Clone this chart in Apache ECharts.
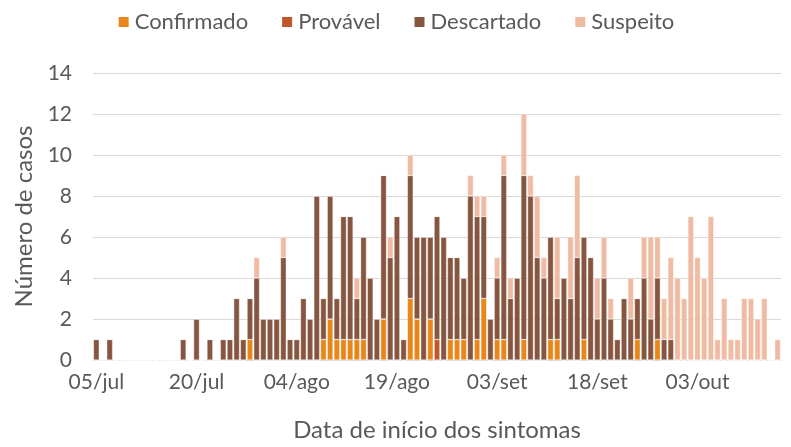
<!DOCTYPE html>
<html>
<head>
<meta charset="utf-8">
<script src="https://cdn.jsdelivr.net/npm/echarts@6/dist/echarts.min.js"></script>
<style>
  html, body { margin: 0; padding: 0; background: #fff; }
  #chart { width: 791px; height: 447px; }
</style>
</head>
<body>
<div id="chart"></div>
<script>
// dias de 05/jul a 15/out
var startDay = new Date(2020, 6, 5);
var months = ['jan', 'fev', 'mar', 'abr', 'mai', 'jun', 'jul', 'ago', 'set', 'out', 'nov', 'dez'];
var days = [];
for (var i = 0; i < 103; i++) {
    var d = new Date(startDay.getTime() + i * 86400000);
    days.push((d.getDate() < 10 ? '0' : '') + d.getDate() + '/' + months[d.getMonth()]);
}

var confirmado = [
    0,0,0,0,0,0,0,0,0,0, 0,0,0,0,0,0,0,0,0,0,
    0,0,0,1,0,0,0,0,0,0, 0,0,0,0,1,2,1,1,1,1,
    1,0,0,2,0,0,0,3,2,0, 2,0,0,1,1,1,0,1,3,0,
    1,1,0,0,1,0,0,0,1,1, 0,0,0,1,0,0,0,0,0,0,
    0,1,0,0,1,0,0,0,0,0, 0,0,0,0,0,0,0,0,0,0,
    0,0,0
];
var provavel = [
    0,0,0,0,0,0,0,0,0,0, 0,0,0,0,0,0,0,0,0,0,
    0,0,0,0,0,0,0,0,0,0, 0,0,0,0,0,0,0,0,0,0,
    0,0,0,0,0,0,0,0,0,0, 0,1,0,0,0,0,0,0,0,0,
    0,0,0,0,0,0,0,0,0,0, 0,0,0,0,0,0,0,0,0,0,
    0,0,0,0,0,0,0,0,0,0, 0,0,0,0,0,0,0,0,0,0,
    0,0,0
];
var descartado = [
    1,0,1,0,0,0,0,0,0,0, 0,0,0,1,0,2,0,1,0,1,
    1,3,1,2,4,2,2,2,5,1, 1,3,2,8,2,6,2,6,6,2,
    5,4,2,7,5,7,1,6,4,6, 4,6,6,4,4,3,8,6,4,2,
    3,8,3,4,8,8,5,4,5,2, 4,3,5,5,5,2,4,2,1,3,
    2,2,4,2,3,1,1,0,0,0, 0,0,0,0,0,0,0,0,0,0,
    0,0,0
];
var suspeito = [
    0,0,0,0,0,0,0,0,0,0, 0,0,0,0,0,0,0,0,0,0,
    0,0,0,0,1,0,0,0,1,0, 0,0,0,0,0,0,0,0,0,1,
    0,0,0,0,1,0,0,1,0,0, 0,0,0,0,0,0,1,1,1,0,
    1,1,1,0,3,1,3,1,0,3, 0,3,4,0,0,2,2,1,0,0,
    2,0,2,4,2,2,4,4,3,7, 5,4,7,1,3,1,1,3,3,2,
    3,0,1
];

var yTicks = [0, 2, 4, 6, 8, 10, 12, 14];
var txt = '#595959';
var font = 'Lato';

function serie(name, data, color) {
    return {
        name: name,
        type: 'bar',
        stack: 'casos',
        data: data,
        barCategoryGap: '14%',
        itemStyle: { color: color, borderColor: '#fff', borderWidth: 0.4 }
    };
}

var myChart = echarts.init(document.getElementById('chart'));
myChart.setOption({
    animation: false,
    textStyle: { fontFamily: font, color: txt },
    legend: {
        top: 6,
        left: 'center',
        itemWidth: 12,
        itemHeight: 12,
        itemGap: 32,
        icon: 'rect',
        textStyle: { fontSize: 22, color: txt, fontFamily: font }
    },
    grid: { left: 93, right: 10, top: 73, bottom: 86 },
    xAxis: {
        type: 'category',
        data: days,
        name: 'Data de início dos sintomas',
        nameLocation: 'middle',
        nameGap: 58,
        nameTextStyle: { fontSize: 24, color: txt },
        axisLine: { lineStyle: { color: '#d9d9d9', width: 1 } },
        axisTick: { show: false },
        axisLabel: { interval: 14, fontSize: 21, color: txt, margin: 12 }
    },
    yAxis: {
        type: 'value',
        min: yTicks[0],
        max: yTicks[yTicks.length - 1],
        interval: 2,
        name: 'Número de casos',
        nameLocation: 'middle',
        nameGap: 53,
        nameTextStyle: { fontSize: 24, color: txt },
        axisLine: { show: false },
        axisTick: { show: false },
        axisLabel: { fontSize: 21, color: txt, margin: 21 },
        splitLine: { lineStyle: { color: '#d9d9d9', width: 1 } }
    },
    series: [
        serie('Confirmado', confirmado, '#e8861a'),
        serie('Provável', provavel, '#c0562b'),
        serie('Descartado', descartado, '#875641'),
        serie('Suspeito', suspeito, '#efbba3')
    ]
});
</script>
</body>
</html>
